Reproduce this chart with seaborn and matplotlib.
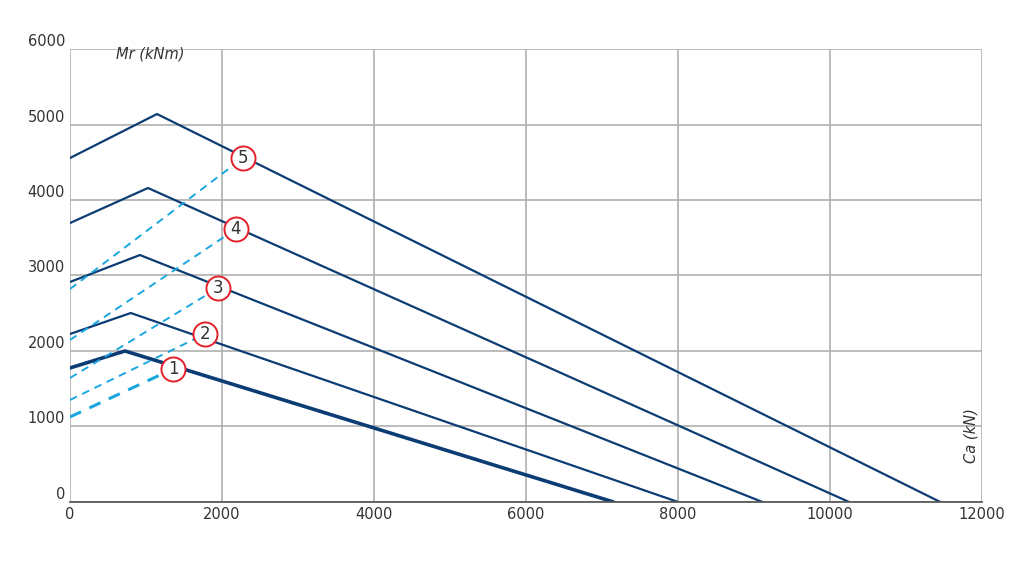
import matplotlib.pyplot as plt
import seaborn as sns
import pandas as pd

# solid curves: start, peak, end (Ca kN, Mr kNm)
curve_ids = [1, 2, 3, 4, 5]
start_mr = [1775, 2225, 2914, 3695, 4556]
peak_ca = [724, 800, 920, 1026, 1145]
peak_mr = [2000, 2503, 3271, 4159, 5139]
end_ca = [7150, 8000, 9110, 10250, 11450]

# dashed lines: start Mr at Ca=0, end at the numbered marker
dash_start_mr = [1126, 1351, 1642, 2146, 2821]
marker_ca = [1355, 1776, 1947, 2184, 2276]
marker_mr = [1762, 2225, 2834, 3616, 4556]

sns.set_theme(style="whitegrid")
plt.rcParams['font.family'] = ['DejaVu Sans']

fig = plt.figure(figsize=(10.23, 5.62), dpi=100)
ax = fig.add_axes([0.0684, 0.1068, 0.8916, 0.806])

dark = '#0b3d74'
light = '#1aa7e0'

for i, cid in enumerate(curve_ids):
    solid = pd.DataFrame({'ca': [0, peak_ca[i], end_ca[i]],
                          'mr': [start_mr[i], peak_mr[i], 0]})
    sns.lineplot(data=solid, x='ca', y='mr', ax=ax, color=dark,
                 lw=2.6 if cid == 1 else 1.6, sort=False)
    dash = pd.DataFrame({'ca': [0, marker_ca[i]],
                         'mr': [dash_start_mr[i], marker_mr[i]]})
    sns.lineplot(data=dash, x='ca', y='mr', ax=ax, color=light,
                 lw=2.2 if cid == 1 else 1.4, linestyle=(0, (4, 3)), sort=False)
    ax.scatter(marker_ca[i], marker_mr[i], s=300, facecolor='white',
               edgecolor='#e4202a', linewidth=1.4, zorder=5)
    ax.text(marker_ca[i], marker_mr[i], str(cid), ha='center', va='center',
            fontsize=12, color='#333333', zorder=6)

ax.set_xlim(0, 12000)
ax.set_ylim(0, 6000)
ax.set_xticks(range(0, 12001, 2000))
ax.set_yticks(range(0, 6001, 1000))
ax.set_xlabel('')
ax.set_ylabel('')
ax.grid(color='#b0b0b0', lw=1.2)
for s in ax.spines.values():
    s.set_visible(False)
ax.spines['bottom'].set_visible(True)
ax.spines['bottom'].set_color('#555555')
ax.tick_params(axis='both', labelsize=10.5, colors='#333333', length=0)
for lab in ax.get_yticklabels():
    lab.set_verticalalignment('bottom')

ax.text(600, 5880, 'Mr (kNm)', style='italic', fontsize=10.5, color='#333333')
ax.text(11850, 550, 'Ca (kN)', style='italic', fontsize=10.5, color='#333333',
        rotation=90, ha='center')

fig.savefig('out.png', dpi=100)
